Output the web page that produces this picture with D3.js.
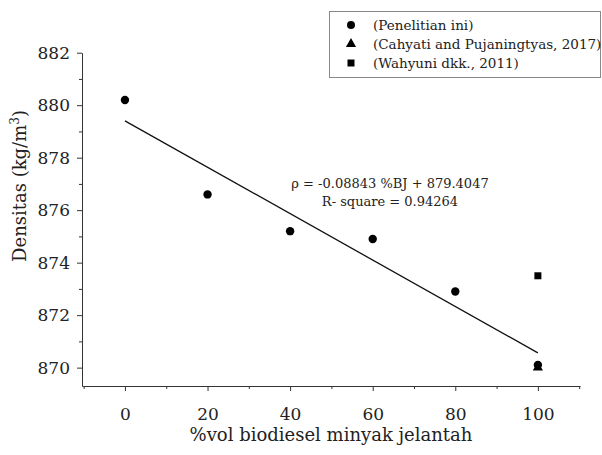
<!DOCTYPE html>
<html>
<head>
<meta charset="utf-8">
<script src="https://cdn.jsdelivr.net/npm/d3@7"></script>
<style>
  body { margin: 0; background: #fff; }
  text { font-family: "DejaVu Serif", serif; fill: #222; }
</style>
</head>
<body>
<div id="chart"></div>
<script>
// data
var volPercent = [0, 20, 40, 60, 80, 100];
var densityThisWork = [880.2, 876.6, 875.2, 874.9, 872.9, 870.1];
var cahyatiX = [100];
var cahyatiY = [870.0];
var wahyuniX = [100];
var wahyuniY = [873.5];
var fitSlope = -0.08843;
var fitIntercept = 879.4047;
var xTicks = [0, 20, 40, 60, 80, 100];
var yTicks = [870, 872, 874, 876, 878, 880, 882];
var legendLabels = ["(Penelitian ini)", "(Cahyati and Pujaningtyas, 2017)", "(Wahyuni dkk., 2011)"];

var W = 602, H = 455;

var svg = d3.select("#chart")
  .append("svg")
  .attr("width", W)
  .attr("height", H);

var x = d3.scaleLinear().domain([-10.4, 110.2]).range([82, 580]);
var y = d3.scaleLinear().domain([869.3, 882]).range([386, 52.7]);

// minor ticks
var xMinor = d3.range(-10, 111, 20);
var yMinor = d3.range(871, 882, 2);

svg.append("g")
  .attr("transform", "translate(0,386)")
  .call(d3.axisBottom(x).tickValues(xMinor).tickSize(3).tickSizeOuter(0).tickFormat(""))
  .call(g => g.select(".domain").remove());
svg.append("g")
  .attr("transform", "translate(82,0)")
  .call(d3.axisLeft(y).tickValues(yMinor).tickSize(3).tickSizeOuter(0).tickFormat(""))
  .call(g => g.select(".domain").remove());

// X axis
var gx = svg.append("g")
  .attr("transform", "translate(0,386)")
  .call(d3.axisBottom(x).tickValues(xTicks).tickSize(5).tickSizeOuter(0).tickPadding(17));
gx.selectAll("text").style("font-size", "17px");

// Y axis
var gy = svg.append("g")
  .attr("transform", "translate(82,0)")
  .call(d3.axisLeft(y).tickValues(yTicks).tickSize(5).tickSizeOuter(0).tickPadding(7));
gy.selectAll("text").style("font-size", "17px");

svg.selectAll(".domain, .tick line").attr("stroke", "#333");

// axis titles
svg.append("text")
  .attr("x", 331).attr("y", 441)
  .attr("text-anchor", "middle")
  .style("font-size", "18px")
  .text("%vol biodiesel minyak jelantah");

var yt = svg.append("text")
  .attr("transform", "translate(26,186)rotate(-90)")
  .attr("text-anchor", "middle")
  .style("font-size", "18px");
yt.append("tspan").text("Densitas (kg/m");
yt.append("tspan").attr("dy", -7).style("font-size", "12px").text("3");
yt.append("tspan").attr("dy", 7).text(")");

// fitted line
svg.append("line")
  .attr("x1", x(0)).attr("y1", y(fitIntercept))
  .attr("x2", x(100)).attr("y2", y(fitIntercept + fitSlope * 100))
  .attr("stroke", "#111").attr("stroke-width", 1.3);

// points
svg.selectAll("circle.pt")
  .data(volPercent)
  .join("circle")
  .attr("class", "pt")
  .attr("cx", d => x(d))
  .attr("cy", (d, i) => y(densityThisWork[i]))
  .attr("r", 4.2)
  .attr("fill", "#000");

svg.selectAll("path.tri")
  .data(cahyatiX)
  .join("path")
  .attr("class", "tri")
  .attr("transform", (d, i) => "translate(" + x(d) + "," + y(cahyatiY[i]) + ")")
  .attr("d", d3.symbol().type(d3.symbolTriangle).size(45))
  .attr("fill", "#000");

svg.selectAll("path.sq")
  .data(wahyuniX)
  .join("path")
  .attr("class", "sq")
  .attr("transform", (d, i) => "translate(" + x(d) + "," + y(wahyuniY[i]) + ")")
  .attr("d", d3.symbol().type(d3.symbolSquare).size(49))
  .attr("fill", "#000");

// equation
svg.append("text")
  .attr("x", 390).attr("y", 188)
  .attr("text-anchor", "middle")
  .style("font-size", "13px")
  .text("ρ = " + fitSlope + " %BJ + " + fitIntercept);
svg.append("text")
  .attr("x", 390).attr("y", 206)
  .attr("text-anchor", "middle")
  .style("font-size", "13px")
  .text("R- square = 0.94264");

// legend
var lg = svg.append("g");
lg.append("rect")
  .attr("x", 329.5).attr("y", 11.5)
  .attr("width", 271).attr("height", 66)
  .attr("fill", "#fff").attr("stroke", "#888");
var shapes = [d3.symbolCircle, d3.symbolTriangle, d3.symbolSquare];
var sizes = [50, 45, 49];
legendLabels.forEach((lab, i) => {
  var cy = 25 + i * 19;
  lg.append("path")
    .attr("transform", "translate(351," + cy + ")")
    .attr("d", d3.symbol().type(shapes[i]).size(sizes[i]))
    .attr("fill", "#000");
  lg.append("text")
    .attr("x", 373).attr("y", cy + 5)
    .style("font-size", "13.5px")
    .text(lab);
});
</script>
</body>
</html>
